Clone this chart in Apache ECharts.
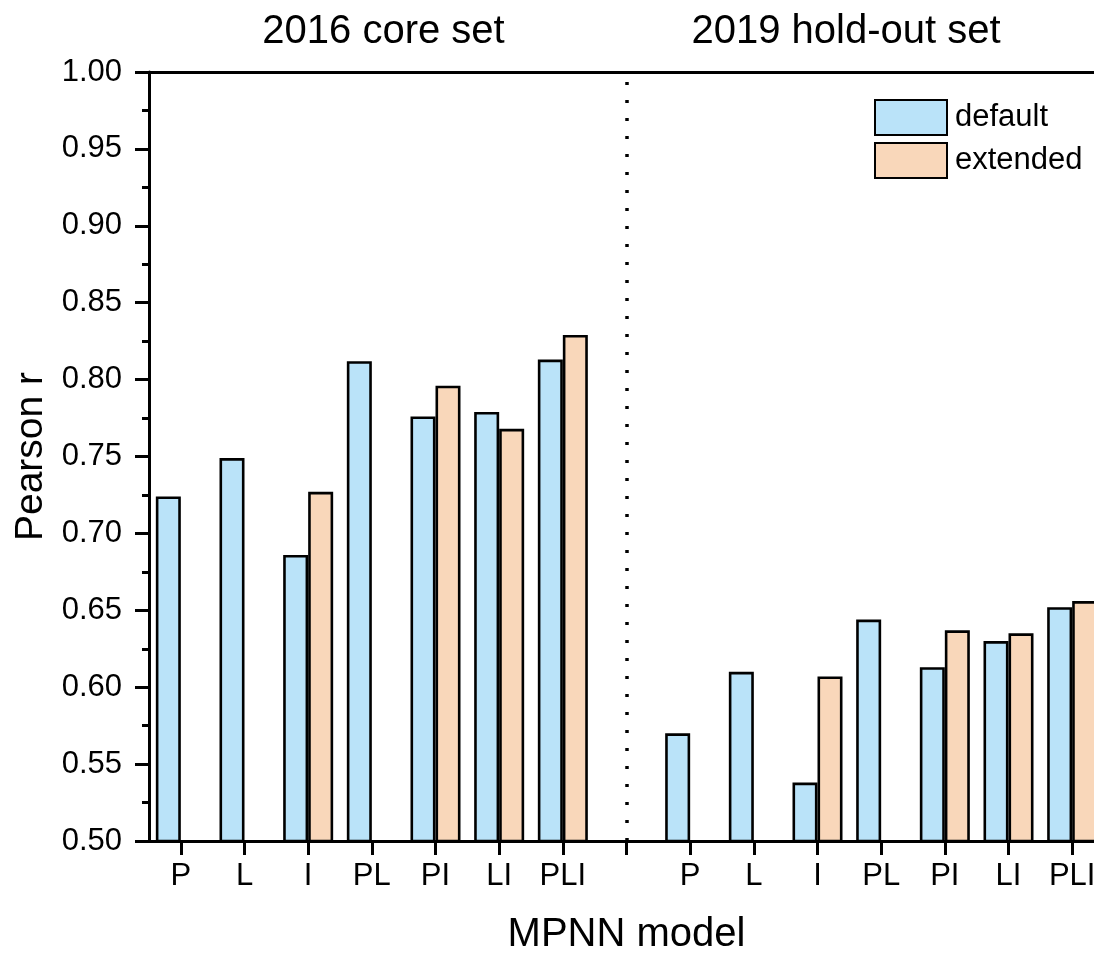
<!DOCTYPE html>
<html>
<head>
<meta charset="utf-8">
<script src="https://cdn.jsdelivr.net/npm/echarts@6/dist/echarts.min.js"></script>
<style>
  html, body { margin: 0; padding: 0; background: #ffffff; }
  #chart { width: 1094px; height: 954px; }
</style>
</head>
<body>
<div id="chart"></div>
<script>
// MPNN model variants (P = protein, L = ligand, I = interaction features)
const models = ['P', 'L', 'I', 'PL', 'PI', 'LI', 'PLI'];

// Pearson r on the 2016 core set
const coreDefault  = [0.724, 0.749, 0.686, 0.812, 0.776, 0.779, 0.813];
const coreExtended = [null,  null,  0.727, null,  0.796, 0.768, 0.829];

// Pearson r on the 2019 hold-out set
const holdoutDefault  = [0.570, 0.610, 0.538, 0.644, 0.613, 0.630, 0.652];
const holdoutExtended = [null,  null,  0.607, null,  0.637, 0.635, 0.656];

const seriesNames = ['default', 'extended'];
const groupTitles = ['2016 core set', '2019 hold-out set'];

// Both test sets share one category axis; an empty slot separates them
const categories = models.concat([''], models);
const defaultValues = coreDefault.concat([null], holdoutDefault);
const extendedValues = coreExtended.concat([null], holdoutExtended);
const dividerIndex = models.length;

const FONT = '"Liberation Sans", Arial, sans-serif';
const INK = '#000000';

const chart = echarts.init(document.getElementById('chart'), null, { renderer: 'canvas' });

const barStyle = (fill) => ({ color: fill, borderColor: INK, borderWidth: 2.6 });

chart.setOption({
  animation: false,
  backgroundColor: '#ffffff',
  textStyle: { fontFamily: FONT, color: INK },
  // the plot area runs slightly past the right edge of the page
  grid: { left: 149, width: 955, top: 72, bottom: 113, containLabel: false, outerBoundsMode: 'none' },
  graphic: [
    { type: 'text', x: 383.5, y: 12, silent: true,
      style: { text: groupTitles[0], font: '40px ' + FONT, fill: INK, align: 'center', verticalAlign: 'top' } },
    { type: 'text', x: 846, y: 12, silent: true,
      style: { text: groupTitles[1], font: '40px ' + FONT, fill: INK, align: 'center', verticalAlign: 'top' } }
  ],
  legend: {
    orient: 'vertical',
    left: 869,
    top: 94,
    itemWidth: 72,
    itemHeight: 35,
    itemGap: 6,
    icon: 'rect',
    selectedMode: false,
    data: seriesNames,
    textStyle: { fontSize: 31, color: INK, fontFamily: FONT, lineHeight: 35, padding: [0, 0, 0, 3] }
  },
  xAxis: [
    {
      type: 'category',
      data: categories,
      position: 'bottom',
      name: 'MPNN model',
      nameLocation: 'middle',
      nameGap: 74,
      nameTextStyle: { fontSize: 40, color: INK, fontFamily: FONT },
      axisLine: { show: true, lineStyle: { color: INK, width: 3 } },
      axisTick: { show: true, alignWithLabel: true, interval: 0, length: 14, lineStyle: { color: INK, width: 3 } },
      axisLabel: { show: true, interval: 0, fontSize: 31, color: INK, margin: 20, fontFamily: FONT },
      splitLine: { show: false }
    },
    {
      type: 'category',
      data: categories,
      position: 'top',
      axisLine: { show: true, onZero: false, lineStyle: { color: INK, width: 3 } },
      axisTick: { show: false },
      axisLabel: { show: false },
      splitLine: { show: false }
    }
  ],
  yAxis: {
    type: 'value',
    min: 0.5,
    max: 1.0,
    interval: 0.05,
    name: 'Pearson r',
    nameLocation: 'middle',
    nameGap: 97,
    nameTextStyle: { fontSize: 39, color: INK, fontFamily: FONT },
    axisLine: { show: true, lineStyle: { color: INK, width: 3 } },
    axisTick: { show: true, length: 14, lineStyle: { color: INK, width: 3 } },
    minorTick: { show: true, splitNumber: 2, length: 7, lineStyle: { color: INK, width: 3 } },
    splitLine: { show: false },
    minorSplitLine: { show: false },
    axisLabel: { fontSize: 31, color: INK, margin: 27, fontFamily: FONT,
      formatter: (v) => v.toFixed(2) }
  },
  series: [
    {
      name: seriesNames[0],
      type: 'bar',
      data: defaultValues,
      barWidth: 25,
      barGap: '0%',
      itemStyle: barStyle('#BAE3F9'),
      emphasis: { disabled: true }
    },
    {
      name: seriesNames[1],
      type: 'bar',
      data: extendedValues,
      barWidth: 25,
      barGap: '0%',
      itemStyle: barStyle('#F9D7BA'),
      emphasis: { disabled: true }
    },
    {
      // dotted separator between the two test sets, on the empty category
      name: 'separator',
      type: 'line',
      data: [],
      silent: true,
      showSymbol: false,
      markLine: {
        silent: true,
        symbol: 'none',
        animation: false,
        label: { show: false },
        emphasis: { disabled: true },
        lineStyle: { type: [3, 15], width: 3.5, color: INK },
        data: [{ xAxis: dividerIndex }]
      }
    }
  ]
});
</script>
</body>
</html>
